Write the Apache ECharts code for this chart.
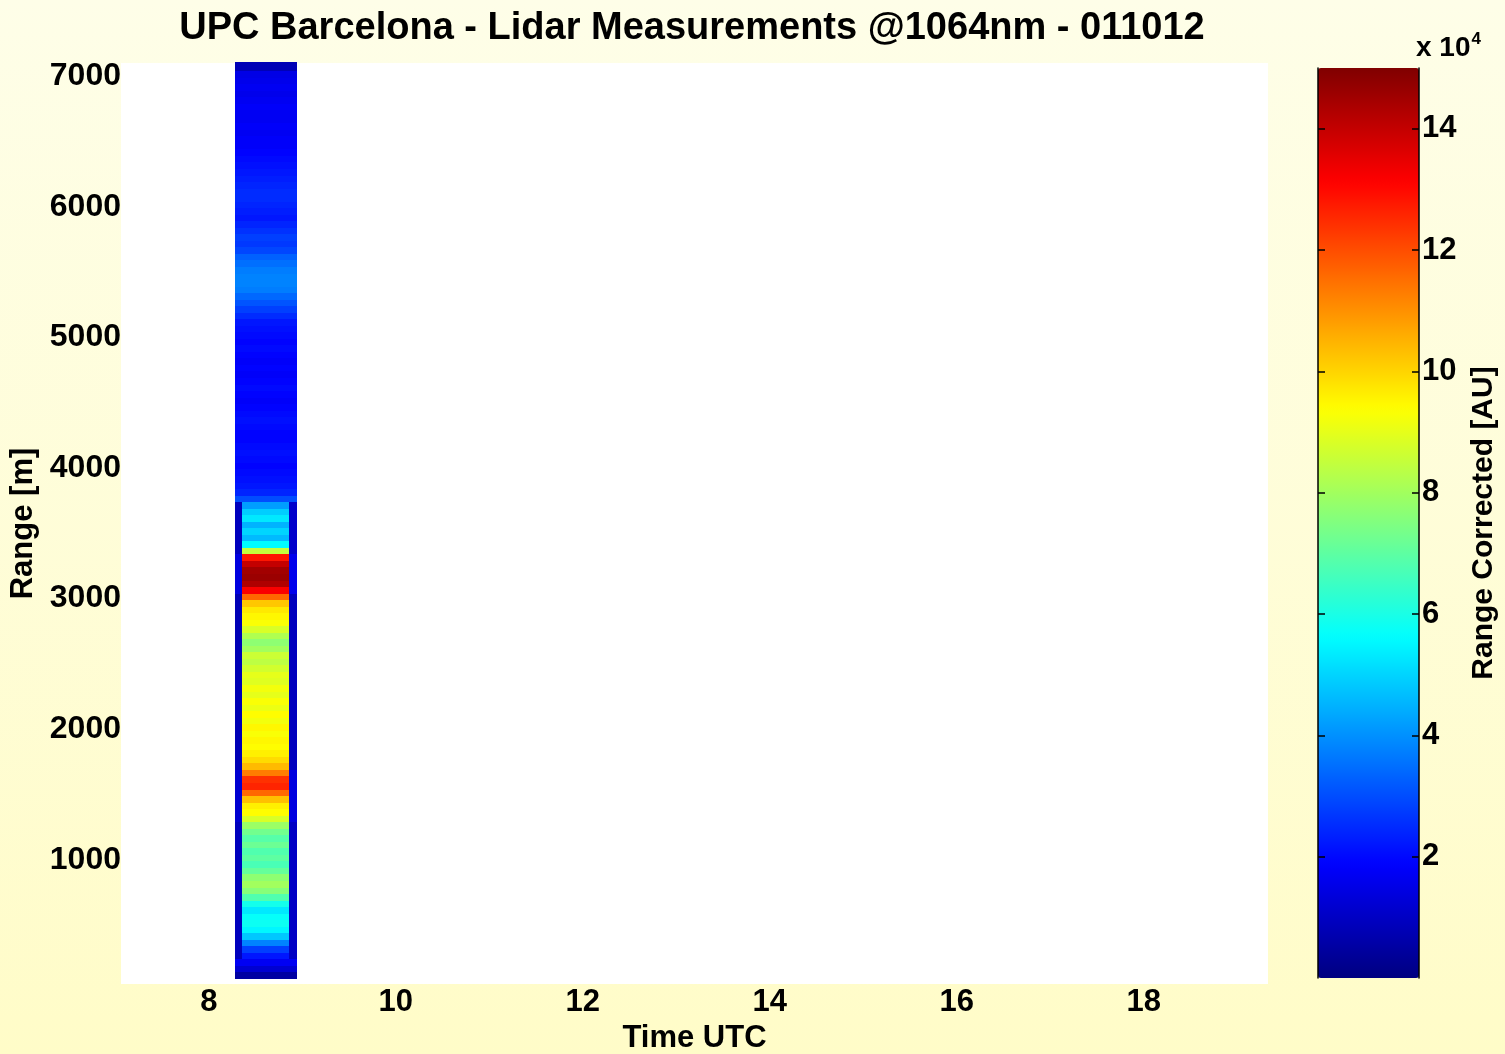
<!DOCTYPE html>
<html>
<head>
<meta charset="utf-8">
<script src="https://cdn.jsdelivr.net/npm/echarts@6/dist/echarts.min.js"></script>
<style>
  html, body { margin: 0; padding: 0; }
  #chart {
    width: 1505px;
    height: 1054px;
    background: linear-gradient(#fefee8, #fffcc8);
  }
</style>
</head>
<body>
<div id="chart"></div>
<script>
// profile bins: 50 m each, starting at 100 m (values in units of 10^4 AU)
const rangeStart = 100;
const rangeStep = 50;
const centerProfile = [
  0.5, 1.2, 1.7, 2.2, 2.8, 3.8, 4.8, 5.5, 5.8, 5.7,
  5.3, 5.9, 6.8, 7.6, 8.0, 7.7, 7.1, 6.7, 7.0, 6.8,
  7.2, 6.9, 7.3, 7.9, 8.8, 9.4, 9.6, 10.3, 11.6, 12.6,
  12.4, 11.3, 10.4, 9.9, 9.6, 9.4, 9.5, 9.3, 9.5, 9.2,
  9.4, 9.1, 9.3, 9.0, 9.2, 8.9, 9.0, 8.7, 8.4, 8.6,
  8.0, 7.7, 8.2, 8.8, 9.3, 9.5, 9.7, 10.2, 11.6, 13.2,
  14.3, 14.6, 14.5, 14.0, 12.8, 8.5, 5.6, 4.6, 5.0, 4.5,
  5.3, 4.9, 4.2, 3.0, 2.4, 2.2, 2.1, 2.0, 1.9, 2.0,
  2.1, 2.0, 1.9, 1.9, 2.0, 2.1, 2.0, 1.9, 1.8, 1.9,
  2.0, 1.9, 1.8, 1.9, 1.8, 1.9, 2.0, 1.9, 2.0, 2.1,
  2.2, 2.5, 2.8, 3.1, 3.4, 3.7, 3.8, 3.8, 3.7, 3.5,
  3.3, 2.9, 2.7, 2.8, 2.6, 2.4, 2.2, 2.3, 2.4, 2.5,
  2.5, 2.4, 2.3, 2.2, 2.1, 2.0, 1.9, 1.8, 1.8, 1.7,
  1.8, 1.7, 1.7, 1.8, 1.7, 1.6, 1.7, 1.6, 1.5, 0.8
];

// dark strips on both sides of the column in the lower layers
const edgeRanges = [[250, 1300], [1300, 1700], [1700, 3050], [3050, 3350], [3350, 3750]];
const leftEdgeValues = [0.9, 1.2, 0.8, 1.4, 0.9];
const rightEdgeValues = [1.0, 1.4, 0.9, 1.6, 1.1];

// time boundaries of the measurement column [h UTC]
const columnTimes = [8.29, 8.365, 8.865, 8.94];

const timeTicks = [8, 10, 12, 14, 16, 18];
const rangeTicks = [1000, 2000, 3000, 4000, 5000, 6000, 7000];
const colorTicks = [2, 4, 6, 8, 10, 12, 14];

const jet = ['#000080', '#0000ff', '#0080ff', '#00ffff', '#80ff80', '#ffff00', '#ff8000', '#ff0000', '#800000'];

const cells = [];
centerProfile.forEach((v, i) => {
  const r0 = rangeStart + i * rangeStep;
  const r1 = r0 + rangeStep;
  const mid = (r0 + r1) / 2;
  const k = edgeRanges.findIndex((e) => mid >= e[0] && mid < e[1]);
  if (k < 0) {
    cells.push([columnTimes[0], columnTimes[3], r0, r1, v]);
  } else {
    cells.push([columnTimes[0], columnTimes[1], r0, r1, leftEdgeValues[k]]);
    cells.push([columnTimes[1], columnTimes[2], r0, r1, v]);
    cells.push([columnTimes[2], columnTimes[3], r0, r1, rightEdgeValues[k]]);
  }
});

const font = 'Liberation Sans, Arial, Helvetica, sans-serif';
const chart = echarts.init(document.getElementById('chart'));

const renderCell = (params, api) => {
  const p0 = api.coord([api.value(0), api.value(3)]);
  const p1 = api.coord([api.value(1), api.value(2)]);
  const x = Math.floor(p0[0]);
  const y = Math.floor(p0[1]);
  return {
    type: 'rect',
    shape: { x: x, y: y, width: Math.ceil(p1[0]) - x, height: Math.ceil(p1[1]) - y + 1 },
    style: { fill: api.visual('color') },
  };
};

const colorbarAxis = {
  type: 'value',
  gridIndex: 1,
  min: 0,
  max: 15,
  z: 10,
  axisLine: { show: true, onZero: false, lineStyle: { color: '#000', width: 1.5 } },
  axisTick: { show: true, inside: true, length: 7, customValues: colorTicks, lineStyle: { color: '#000', width: 1.5 } },
  splitLine: { show: false },
};

const option = {
  backgroundColor: 'transparent',
  animation: false,
  graphic: [
    {
      type: 'text',
      x: 692,
      y: 29,
      style: {
        text: 'UPC Barcelona - Lidar Measurements @1064nm - 011012',
        fontSize: 38,
        fontWeight: 'bold',
        fontFamily: font,
        fill: '#000',
        align: 'center',
        verticalAlign: 'middle',
      },
    },
    {
      type: 'text',
      x: 1416,
      y: 48,
      style: {
        text: 'x 10{s|4}',
        fontSize: 28,
        fontWeight: 'bold',
        fontFamily: font,
        fill: '#000',
        verticalAlign: 'middle',
        rich: {
          s: { fontSize: 17, fontWeight: 'bold', fontFamily: font, verticalAlign: 'top', padding: [0, 0, 18, 1] },
        },
      },
    },
  ],
  grid: [
    { left: 121, top: 63, width: 1147, height: 921, show: true, backgroundColor: '#ffffff', borderWidth: 0, outerBoundsMode: 'none', containLabel: false },
    { left: 1318, top: 68, width: 101, height: 910, show: false, outerBoundsMode: 'none', containLabel: false },
  ],
  xAxis: [
    {
      type: 'value',
      gridIndex: 0,
      min: 7.06,
      max: 19.33,
      name: 'Time UTC',
      nameLocation: 'middle',
      nameGap: 36,
      nameTextStyle: { fontSize: 31, fontWeight: 'bold', fontFamily: font, color: '#000' },
      axisLine: { show: false },
      axisTick: { show: false },
      splitLine: { show: false },
      axisLabel: {
        customValues: timeTicks,
        fontSize: 31,
        fontWeight: 'bold',
        fontFamily: font,
        color: '#000',
        margin: 3,
      },
    },
    { type: 'value', gridIndex: 1, min: 0, max: 1, show: false },
  ],
  yAxis: [
    {
      type: 'value',
      gridIndex: 0,
      min: 50,
      max: 7100,
      name: 'Range [m]',
      nameLocation: 'middle',
      nameRotate: 90,
      nameGap: 72,
      nameTextStyle: { fontSize: 31, fontWeight: 'bold', fontFamily: font, color: '#000' },
      axisLine: { show: false },
      axisTick: { show: false },
      splitLine: { show: false },
      axisLabel: {
        customValues: rangeTicks,
        formatter: (v) => String(v),
        fontSize: 32,
        fontWeight: 'bold',
        fontFamily: font,
        color: '#000',
        margin: 0,
      },
    },
    Object.assign({}, colorbarAxis, {
      position: 'right',
      name: 'Range Corrected [AU]',
      nameLocation: 'middle',
      nameRotate: 90,
      nameGap: 50,
      nameTextStyle: { fontSize: 30, fontWeight: 'bold', fontFamily: font, color: '#000' },
      axisLabel: {
        customValues: colorTicks,
        fontSize: 31,
        fontWeight: 'bold',
        fontFamily: font,
        color: '#000',
        margin: 3,
      },
    }),
    Object.assign({}, colorbarAxis, {
      position: 'left',
      axisLabel: { show: false },
    }),
  ],
  visualMap: {
    type: 'continuous',
    min: 0,
    max: 15,
    dimension: 4,
    seriesIndex: 0,
    calculable: false,
    hoverLink: false,
    orient: 'vertical',
    left: 1318,
    top: 68,
    padding: 0,
    z: 1,
    itemWidth: 101,
    itemHeight: 910,
    inRange: { color: jet },
  },
  series: [
    {
      type: 'custom',
      xAxisIndex: 0,
      yAxisIndex: 0,
      renderItem: renderCell,
      encode: { x: [0, 1], y: [2, 3] },
      data: cells,
    },
  ],
};

chart.setOption(option);
</script>
</body>
</html>
